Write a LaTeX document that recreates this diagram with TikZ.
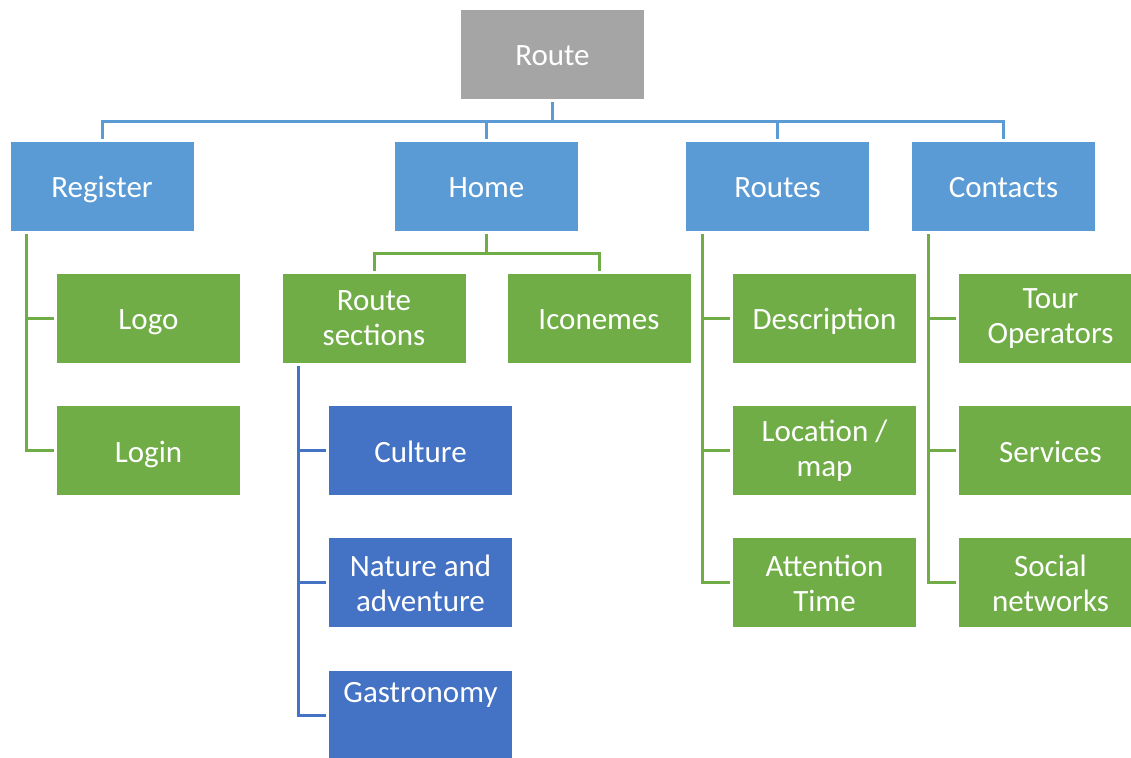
\documentclass[tikz,border=0pt]{standalone}
\usepackage{fontspec}
\setmainfont{Carlito}
\usepackage{xcolor}
\definecolor{topgray}{HTML}{A5A5A5}
\definecolor{lightblue}{HTML}{5B9BD5}
\definecolor{leafgreen}{HTML}{70AD47}
\definecolor{darkblue}{HTML}{4472C4}

\begin{document}
\begin{tikzpicture}[x=0.5pt, y=-0.5pt,
        basebox/.style = {minimum width=91.5pt, minimum height=44.5pt, inner sep=0pt,
            text=white, align=center, font=\fontsize{15.5}{17.5}\selectfont},
        box/.style = {basebox, execute at begin node=\rule{0pt}{16.75pt}, execute at end node=\strut},
        root/.style = {box, fill=topgray},
        menu/.style = {box, fill=lightblue},
        leaf/.style = {box, fill=leafgreen},
        sect/.style = {box, fill=darkblue},
        leafpair/.style = {basebox, fill=leafgreen},
        sectpair/.style = {basebox, fill=darkblue},
        link/.style = {line width=1.5pt, shorten <=1.5pt, shorten >=1.5pt}]
        \useasboundingbox (0,0) rectangle (1131,758);
        \clip (0,0) rectangle (1131,758);

        \node[root] (route) at (552.5,54.5) {Route};

        \node[menu] (register) at (102,186.5) {Register};
        \node[menu] (home) at (486.5,186.5) {Home};
        \node[menu] (routes) at (777.5,186.5) {Routes};
        \node[menu] (contacts) at (1003.5,186.5) {Contacts};

        \node[leaf] (logo) at (148.5,318.5) {Logo};
        \node[leaf] (login) at (148.5,451) {Login};

        \node[leafpair] (sections) at (374,318.5) {Route\\sections};
        \node[leaf] (iconemes) at (599,318.5) {Iconemes};

        \node[sect] (culture) at (420.5,451) {Culture};
        \node[sectpair] (nature) at (420.5,583) {Nature and\\adventure};
        \node[sectpair] (gastro) at (420.5,715.5) {Gastronomy\\[6pt]~};

        \node[leaf] (descr) at (824.5,318.5) {Description};
        \node[leafpair] (location) at (824.5,451) {Location /\\map};
        \node[leafpair] (attention) at (824.5,583) {Attention\\Time};

        \node[leafpair] (tour) at (1050.5,318.5) {Tour\\Operators};
        \node[leaf] (services) at (1050.5,451) {Services};
        \node[leafpair] (social) at (1050.5,583) {Social\\networks};

        \foreach \m in {register, home, routes, contacts}
            \draw[link, lightblue] (route.south) -- ++(0,22) -| (\m.north);

        \foreach \c in {sections, iconemes}
            \draw[link, leafgreen] (home.south) -- ++(0,22) -| (\c.north);

        \foreach \c in {logo, login}
            \draw[link, leafgreen] ([xshift=8pt]register.south west) |- (\c.west);

        \foreach \c in {culture, nature, gastro}
            \draw[link, darkblue] ([xshift=8pt]sections.south west) |- (\c.west);

        \foreach \c in {descr, location, attention}
            \draw[link, leafgreen] ([xshift=8.5pt]routes.south west) |- (\c.west);

        \foreach \c in {tour, services, social}
            \draw[link, leafgreen] ([xshift=8.5pt]contacts.south west) |- (\c.west);

    \end{tikzpicture}
\end{document}
